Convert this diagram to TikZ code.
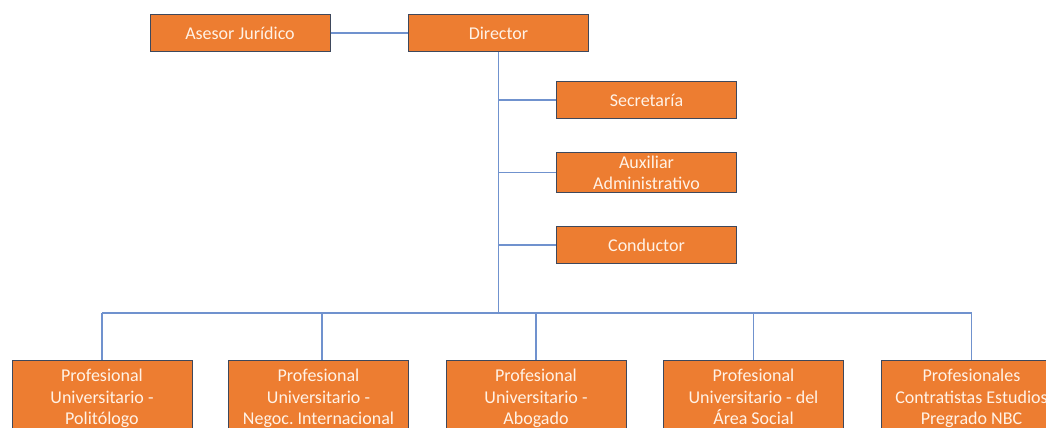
\documentclass[tikz,border=0pt]{standalone}
\usepackage{fontspec}
\setmainfont{Carlito}
\definecolor{cargofill}{RGB}{237,125,49}
\definecolor{cargoedge}{RGB}{62,72,92}
\definecolor{cargotext}{RGB}{255,242,230}
\definecolor{enlace}{RGB}{112,146,206}
\tikzset{
  cargo/.style={draw=cargoedge,line width=0.75pt,fill=cargofill,text=cargotext,
    minimum width=135pt,minimum height=27.5pt,inner sep=2pt,align=center,
    font=\fontsize{13.5}{16}\selectfont},
  cargobajo/.style={cargo,anchor=north,inner ysep=6.5pt},
  enlace/.style={draw=enlace,line width=0.9pt}
}
\begin{document}
\begin{tikzpicture}[x=0.75pt,y=-0.75pt]
\clip (0,0) rectangle (1046,428);
\fill[white] (0,0) rectangle (1046,428);
\node[cargo] (asesor) at (240,33) {Asesor Jurídico};
\node[cargo] (director) at (498.5,33) {Director};
\node[cargo] (secretaria) at (646.5,100) {Secretaría};
\node[cargo] (auxiliar) at (646.5,172.5) {Auxiliar\\Administrativo};
\node[cargo] (conductor) at (646.5,245) {Conductor};
\node[cargobajo] (politologo) at (102,360) {Profesional\\Universitario -\\Politólogo\\[2pt]};
\node[cargobajo] (negocios) at (318.5,360) {Profesional\\Universitario -\\Negoc.\ Internacional\\[2pt]};
\node[cargobajo] (abogado) at (536,360) {Profesional\\Universitario -\\Abogado\\[2pt]};
\node[cargobajo] (social) at (753.5,360) {Profesional\\Universitario - del\\Área Social\\[2pt]};
\node[cargobajo] (contratistas) at (971.5,360) {Profesionales\\Contratistas Estudios\\Pregrado NBC\\[2pt]};
\coordinate (bus) at (498.5,313);
\draw[enlace] (asesor.east) -- (director.west);
\draw[enlace] (director.south) -- (bus);
\draw[enlace] (director.south |- secretaria.west) -- (secretaria.west);
\draw[enlace] (director.south |- auxiliar.west) -- (auxiliar.west);
\draw[enlace] (director.south |- conductor.west) -- (conductor.west);
\draw[enlace] (bus -| politologo.north) -- (bus -| contratistas.north);
\draw[enlace] (bus -| politologo.north) -- (politologo.north);
\draw[enlace] (bus -| 322,0) -- (322,360);
\draw[enlace] (bus -| abogado.north) -- (abogado.north);
\draw[enlace] (bus -| social.north) -- (social.north);
\draw[enlace] (bus -| contratistas.north) -- (contratistas.north);
\end{tikzpicture}
\end{document}
